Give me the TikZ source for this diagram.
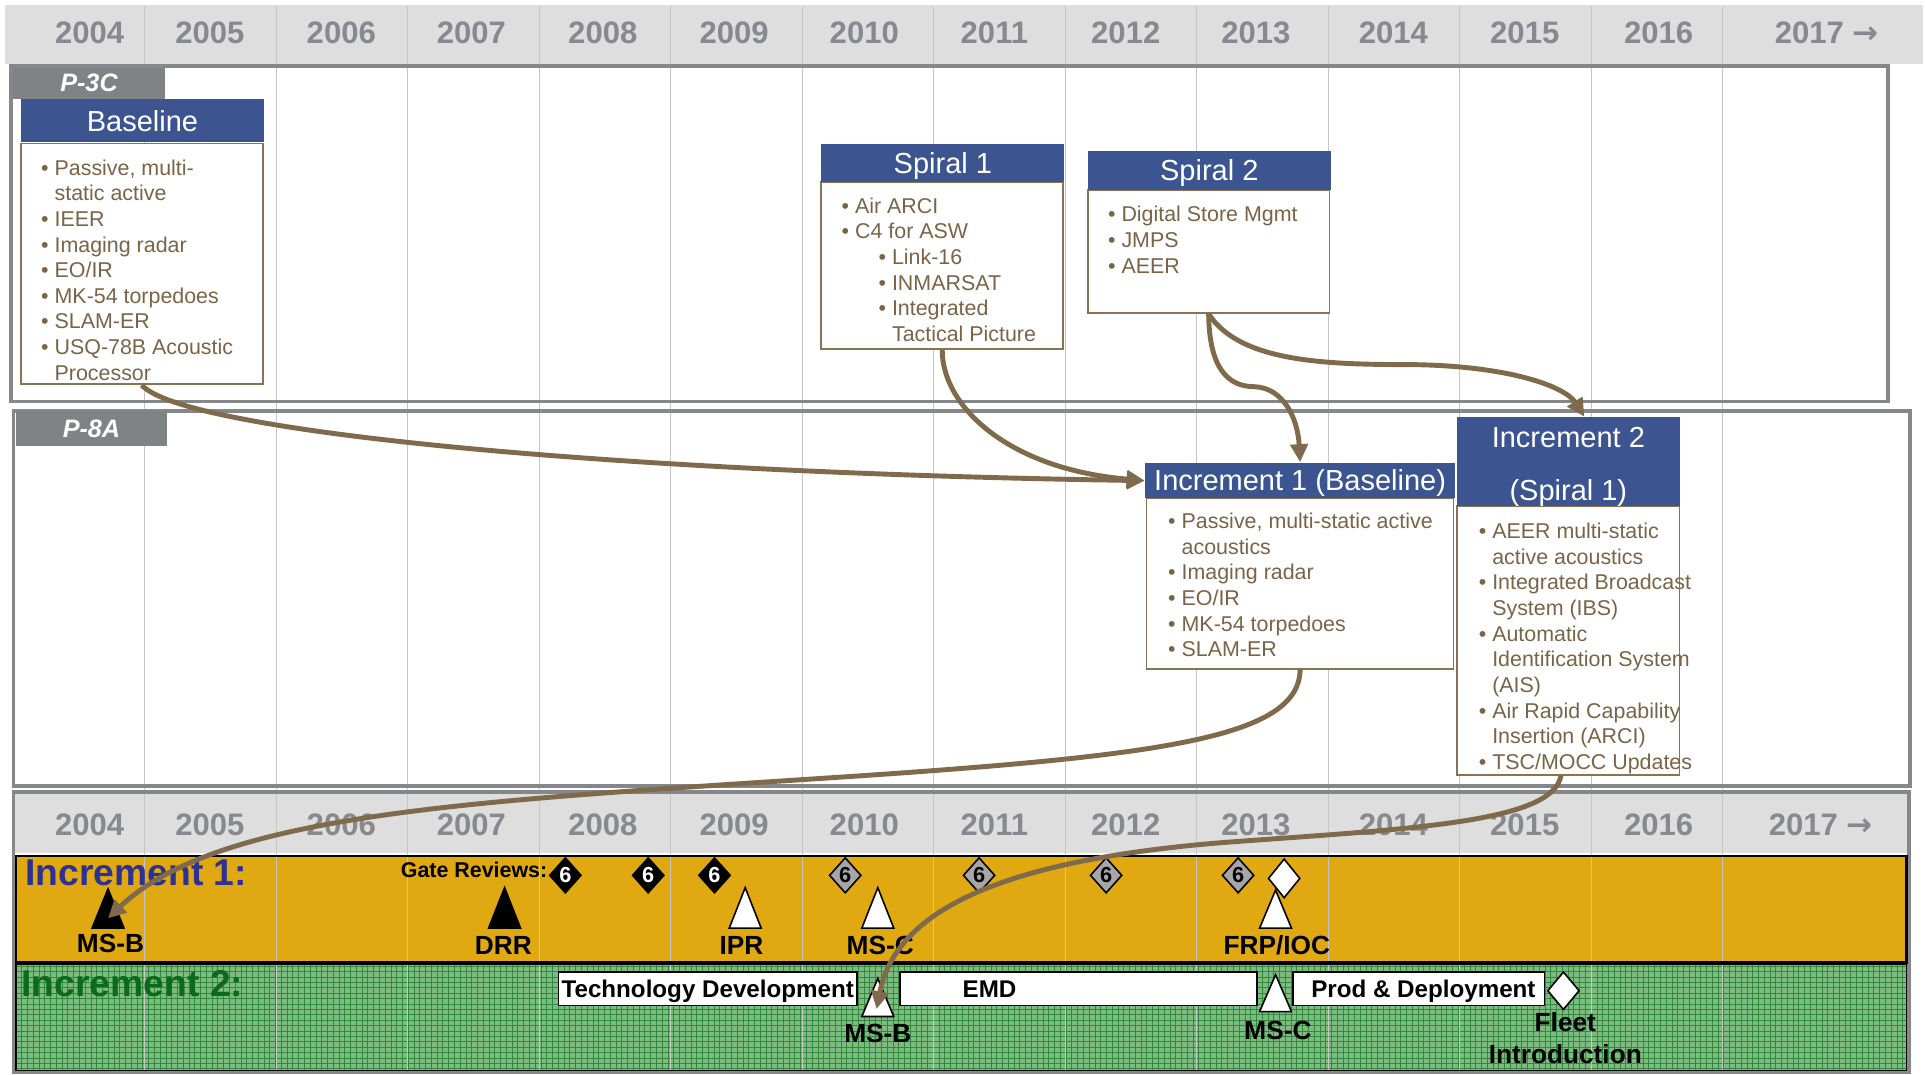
\documentclass[tikz,border=0pt]{standalone}
\usepackage{fontspec}
\setmainfont{Liberation Sans}
\newfontfamily\arrowfont{DejaVu Sans}
\usetikzlibrary{arrows.meta,shapes.geometric,calc}
\definecolor{hdrgrey}{HTML}{DEDEDE}
\definecolor{yeargrey}{HTML}{88898C}
\definecolor{framegrey}{HTML}{86878A}
\definecolor{tabgrey}{HTML}{808285}
\definecolor{gridgrey}{HTML}{C6C6C6}
\definecolor{hdrblue}{HTML}{3C5590}
\definecolor{boxbrown}{HTML}{8A7352}
\definecolor{txtbrown}{HTML}{7A6447}
\definecolor{arrbrown}{HTML}{7F6A4C}
\definecolor{goldband}{HTML}{E0A811}
\definecolor{grnfill}{HTML}{7DBB80}
\definecolor{grnline}{HTML}{2F8A3E}
\definecolor{incblue}{HTML}{2E3192}
\definecolor{incgreen}{HTML}{0B6B1B}
\definecolor{dmdgrey}{HTML}{A6A6A6}
\newcommand\fsz[2]{\fontsize{#1}{#2}\selectfont}
\newcommand\lbit[1]{\makebox[3.9pt][l]{\textbullet}#1}
\newcommand\lcnt[1]{\hspace*{3.9pt}#1}
\newcommand\lsub[1]{\hspace*{10.7pt}\makebox[3.9pt][l]{\textbullet}#1}
\newcommand\lsubc[1]{\hspace*{14.6pt}#1}
\begin{document}
\begin{tikzpicture}[x=0.0125cm, y=-0.0125cm,
  sz/.style 2 args={minimum width={#1*0.35566pt}, minimum height={#2*0.35566pt}},
  lw/.style={line width={#1*0.35566pt}},
  yearlbl/.style={font=\bfseries\fsz{9}{10}, text=yeargrey, inner sep=0},
  tab/.style={fill=tabgrey, text=white, font=\bfseries\itshape\fsz{7.3}{8}, inner sep=0},
  hdr/.style={fill=hdrblue, text=white, font=\fsz{8.4}{10}, inner sep=0, text height=7.8pt, text depth=1.8pt},
  bodybox/.style={draw=boxbrown, fill=white, lw=1.4, inner sep=0},
  body/.style={inner sep=0, text=txtbrown, font=\fsz{6.2}{7.43}, anchor=north west},
  dmd/.style={diamond, draw=black, lw=1.3, inner sep=0, sz={26}{29}, font=\bfseries\fsz{6.3}{7}},
  bdmd/.style={dmd, fill=black, text=white},
  gdmd/.style={dmd, fill=dmdgrey, text=black},
  wdmd/.style={dmd, fill=white, sz={26}{32}},
  tri/.style={draw=black, lw=1.3, line join=miter},
  lbl/.style={font=\bfseries\fsz{7.6}{9}, anchor=base, inner sep=0},
  phase/.style={draw=black, fill=white, lw=1.4, inner sep=0, font=\bfseries\fsz{7}{8}, text height=6.5pt, text depth=1.5pt},
  conn/.style={draw=arrbrown, lw=4, -{Triangle[length=5.2pt,width=5pt]}}
]
\fill[white] (0,0) rectangle (1568,875);
\useasboundingbox (0,0) rectangle (1568,875);

% header and bottom bands
\fill[hdrgrey] (4,4) rectangle (1566,52);
\fill[hdrgrey] (12,647) rectangle (1554,694.5);
\fill[goldband] (13,697) rectangle (1553,784);
\fill[grnfill] (13,785) rectangle (1553,872);
\foreach \i in {0,...,327} {\draw[grnline, lw=0.75] ({13+4.7*\i},785) -- ({13+4.7*\i},872);}
\foreach \j in {0,...,19} {\draw[grnline, lw=0.75] (13,{787+4.4*\j}) -- (1553,{787+4.4*\j});}

% year grid lines
\foreach \k in {0,...,12} {\draw[gridgrey, lw=1] ({118+107.1*\k},5) -- ({118+107.1*\k},873);}

% frames
\draw[framegrey, lw=3] (9,54) rectangle (1538,327);
\draw[framegrey, lw=3] (11,335) rectangle (1556,640);
\draw[framegrey, lw=3] (11,645) rectangle (1555,873);
\draw[black, lw=1.8] (13,697) rectangle (1553,784);
\draw[black, lw=1.4] (13,785.5) rectangle (1553,872);

% year labels
\foreach \yr/\xx in {2004/73,2005/171,2006/278,2007/384,2008/491,2009/598,2010/704,2011/810,2012/917,2013/1023,2014/1135,2015/1242,2016/1351} {
  \node[yearlbl] (ty\yr) at (\xx,27) {\yr};
  \node[yearlbl] (by\yr) at (\xx,672) {\yr};
}
\node[yearlbl] (ty2017) at (1488,27) {2017 {\arrowfont\bfseries →}};
\node[yearlbl] (by2017) at (1483,672) {2017 {\arrowfont\bfseries →}};

% tabs
\node[tab, sz={124}{25}] (p3c) at (72.5,67.8) {P-3C};
\node[tab, sz={123}{28}] (p8a) at (74.5,349) {P-8A};

% Baseline box
\node[bodybox, sz={197}{196}] (baseB) at (115.5,215) {};
\node[hdr, sz={198}{35}] (baseH) at (116,98.5) {Baseline};
\node[body] (baseT) at (33,127.4) {\begin{tabular}{@{}l@{}}
\lbit{Passive, multi-}\\
\lcnt{static active}\\
\lbit{IEER}\\
\lbit{Imaging radar}\\
\lbit{EO/IR}\\
\lbit{MK-54 torpedoes}\\
\lbit{SLAM-ER}\\
\lbit{USQ-78B Acoustic}\\
\lcnt{Processor}
\end{tabular}};

% Spiral 1
\node[bodybox, sz={197}{136}] (s1B) at (767.5,216) {};
\node[hdr, sz={198}{31}] (s1H) at (768,132.5) {Spiral 1};
\node[body] (s1T) at (685,158.4) {\begin{tabular}{@{}l@{}}
\lbit{Air ARCI}\\
\lbit{C4 for ASW}\\
\lsub{Link-16}\\
\lsub{INMARSAT}\\
\lsub{Integrated}\\
\lsubc{Tactical Picture}
\end{tabular}};

% Spiral 2
\node[bodybox, sz={197}{100}] (s2B) at (984.5,205) {};
\node[hdr, sz={198}{32}] (s2H) at (985,139) {Spiral 2};
\node[body] (s2T) at (902,165.4) {\begin{tabular}{@{}l@{}}
\lbit{Digital Store Mgmt}\\
\lbit{JMPS}\\
\lbit{AEER}
\end{tabular}};

% Increment 1 (Baseline)
\node[bodybox, sz={250}{139}] (i1B) at (1059,475.5) {};
\node[hdr, sz={252}{29}] (i1H) at (1059,391.5) {Increment 1 (Baseline)};
\node[body] (i1T) at (951,415.4) {\begin{tabular}{@{}l@{}}
\lbit{Passive, multi-static active}\\
\lcnt{acoustics}\\
\lbit{Imaging radar}\\
\lbit{EO/IR}\\
\lbit{MK-54 torpedoes}\\
\lbit{SLAM-ER}
\end{tabular}};

% Increment 2 (Spiral 1)
\node[bodybox, sz={181}{219}] (i2B) at (1277.5,521.5) {};
\node[hdr, sz={181}{72}] (i2H) at (1277.5,376) {};
\node[hdr, fill=none] (i2Ha) at (1277.5,356) {Increment 2};
\node[hdr, fill=none] (i2Hb) at (1277.5,399) {(Spiral 1)};
\node[body] (i2T) at (1204,423.4) {\begin{tabular}{@{}l@{}}
\lbit{AEER multi-static}\\
\lcnt{active acoustics}\\
\lbit{Integrated Broadcast}\\
\lcnt{System (IBS)}\\
\lbit{Automatic}\\
\lcnt{Identification System}\\
\lcnt{(AIS)}\\
\lbit{Air Rapid Capability}\\
\lcnt{Insertion (ARCI)}\\
\lbit{TSC/MOCC Updates}
\end{tabular}};

% Increment 1 band
\node[font=\bfseries\fsz{10.8}{12}, text=incblue, anchor=base west, inner sep=0] (inc1lbl) at (20,721) {Increment 1:};
\node[font=\bfseries\fsz{6.2}{7}, anchor=base west, inner sep=0] (gate) at (326,715) {Gate Reviews:};
\node[bdmd] (g1) at (460.5,713) {6};
\node[bdmd] (g2) at (528,713) {6};
\node[bdmd] (g3) at (582,713) {6};
\node[gdmd] (g4) at (688.5,713) {6};
\node[gdmd] (g5) at (797.5,713) {6};
\node[gdmd] (g6) at (901,713) {6};
\node[gdmd] (g7) at (1008.5,713) {6};
\draw[tri, fill=black] (75,756) -- (88,724) -- (101,756) -- cycle;
\coordinate (msb1) at (88,748);
\draw[tri, fill=black] (398,756) -- (411,723) -- (424,756) -- cycle;
\draw[tri, fill=white] (594,756) -- (607,723) -- (620,756) -- cycle;
\draw[tri, fill=white] (702,756) -- (715,723) -- (728,756) -- cycle;
\draw[tri, fill=white] (1026,756) -- (1039,725) -- (1052,756) -- cycle;
\node[wdmd] (frpd) at (1046,715.5) {};
\node[lbl] (l1) at (90,775.5) {MS-B};
\node[lbl] (l2) at (410,777.5) {DRR};
\node[lbl] (l3) at (604,777.5) {IPR};
\node[lbl] (l4) at (717,777.5) {MS-C};
\node[lbl] (l5) at (1040,777.5) {FRP/IOC};

% Increment 2 band
\node[font=\bfseries\fsz{10.8}{12}, text=incgreen, anchor=base west, inner sep=0] (inc2lbl) at (17,812) {Increment 2:};
\node[phase, sz={243}{27}] (td) at (576.5,805.5) {Technology Development};
\node[phase, sz={291}{27}] (emd) at (878.5,805.5) {};
\node[font=\bfseries\fsz{7}{8}, inner sep=0, text height=6.5pt, text depth=1.5pt] (emdt) at (806,805.5) {EMD};
\node[phase, sz={205}{27}] (pd) at (1155.5,805.5) {\hspace*{2.8pt}Prod \& Deployment};
\draw[tri, fill=white] (702,828) -- (715,797) -- (728,828) -- cycle;
\coordinate (msb2) at (714,822);
\draw[tri, fill=white] (1026,824) -- (1039,794) -- (1052,824) -- cycle;
\node[wdmd, sz={26}{31}] (fleetd) at (1273.5,807) {};
\node[lbl] (l6) at (715,849.5) {MS-B};
\node[lbl] (l7) at (1041,847) {MS-C};
\node[lbl] (l8) at (1275,840) {Fleet};
\node[lbl] (l9) at (1275,866) {Introduction};

% connectors
\draw[conn] (baseB.south) .. controls (150,352) and (500,385) .. (i1H.west);
\draw[conn] (s1B.south) .. controls (767,330) and (820,382) .. (i1H.west);
\draw[conn] (s2B.south) .. controls (985,300) and (1000,315) .. (1022,315) .. controls (1045,316) and (1057,340) .. (i1H.north);
\draw[conn] (s2B.south) .. controls (1010,295) and (1080,297) .. (1150,297) .. controls (1230,298) and (1275,315) .. ($(i2H.north)+(13,0)$);
\draw[conn] (i1B.south) .. controls (1058,600) and (950,615) .. (700,632) .. controls (400,652) and (180,660) .. (msb1);
\draw[conn] ($(i2B.south)+(-6,0)$) .. controls (1265,670) and (1150,675) .. (1000,686) .. controls (820,700) and (730,740) .. (msb2);
\end{tikzpicture}
\end{document}
